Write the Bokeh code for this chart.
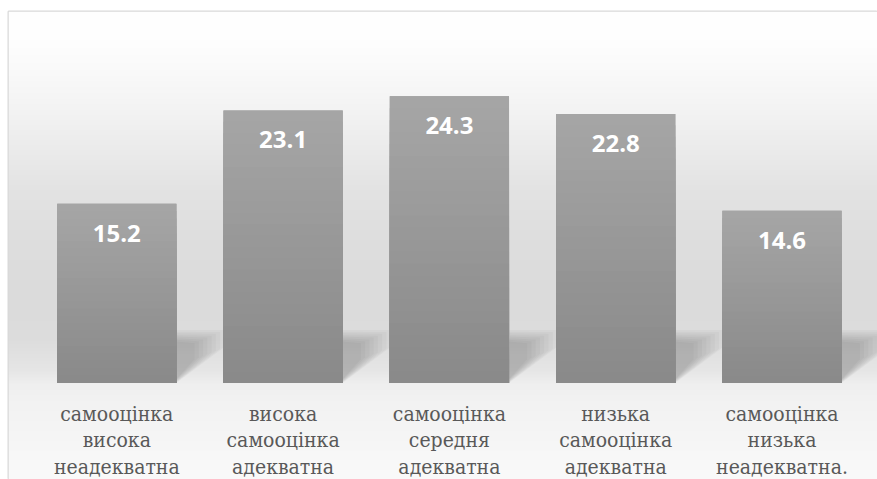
import numpy as np
from bokeh.plotting import figure
from bokeh.models import Range1d
from bokeh.core.properties import value
from bokeh.embed import file_html
from bokeh.resources import INLINE

# ---- data ----
categories = ["самооцінка висока неадекватна",
              "висока самооцінка адекватна",
              "самооцінка середня адекватна",
              "низька самооцінка адекватна",
              "самооцінка низька неадекватна."]
values = [15.2, 23.1, 24.3, 22.8, 14.6]
value_labels = ["15.2", "23.1", "24.3", "22.8", "14.6"]

# ---- geometry (screen scale) ----
W, H = 877, 479
LEFT, TOP = 8, 11
PX_X = 166.3          # px per category
PX_Y = 11.8           # px per unit
ZERO_PAGE = 382.5
FW, FH = W - LEFT, H - TOP
x0 = -(116.3 - LEFT) / PX_X
x1 = x0 + FW / PX_X
y1 = (ZERO_PAGE - TOP) / PX_Y
y0 = y1 - FH / PX_Y
BAR_W = 0.717
HALF = BAR_W / 2

idx = list(range(len(categories)))

p = figure(width=W, height=H, output_backend="svg", toolbar_location=None,
           x_range=Range1d(x0, x1), y_range=Range1d(y0, y1))
p.min_border_left = LEFT
p.min_border_right = 0
p.min_border_bottom = 0
p.min_border_top = TOP
p.xaxis.visible = False
p.yaxis.visible = False
p.xgrid.visible = False
p.ygrid.visible = False
p.outline_line_color = "#d9d9d9"
p.outline_line_width = 2
p.border_fill_color = "white"
p.background_fill_color = "white"

# ---- background gradient (decoration) ----
stops_y = [11, 40, 70, 110, 150, 190, 240, 300, 340, 370, 383, 400, 440, 479]
stops_g = [255, 254, 250, 243, 235, 227, 222, 219, 221, 230, 239, 242, 246, 250]
nrows = FH
page_rows = H - np.arange(nrows) - 0.5
g = np.interp(page_rows, stops_y, stops_g).astype(np.uint8)
img = np.empty((nrows, 1), dtype=np.uint32)
view = img.view(dtype=np.uint8).reshape((nrows, 1, 4))
view[:, 0, 0] = g
view[:, 0, 1] = g
view[:, 0, 2] = g
view[:, 0, 3] = 255
p.image_rgba(image=[img], x=x0, y=y0, dw=x1 - x0, dh=y1 - y0)

# ---- soft floor shadows to the right of each bar (decoration) ----
outer = np.array([(0, 53), (48, 53), (48, 36), (0, 0)], dtype=float)
inner = np.array([(0, 40), (14, 38), (14, 22), (0, 4)], dtype=float)
K = 8
for t in range(K):
    f = t / K
    pts = outer * (1 - f) + inner * f
    xs, ys = [], []
    for i in idx:
        r = i + HALF
        xs.append([r + dx / PX_X for dx, dy in pts])
        ys.append([dy / PX_Y for dx, dy in pts])
    p.patches(xs=xs, ys=ys, fill_color="black", fill_alpha=0.027, line_color=None)

# ---- bars ----
p.vbar(x=idx, top=values, bottom=0, width=BAR_W, fill_color="#989898", line_color=None)
N = 24
for j in range(N):
    frac = (N - j) / N
    gray = int(round(137 + 29 * (N - j - 0.5) / N))
    col = "#%02x%02x%02x" % (gray, gray, gray)
    p.vbar(x=idx, top=[v * frac for v in values], bottom=0, width=BAR_W,
           fill_color=col, line_color=None)

# ---- value labels ----
p.text(x=idx, y=values, text=value_labels, y_offset=29.5,
       text_align="center", text_baseline="alphabetic", text_color="white",
       text_font=value("Open Sans"), text_font_style="bold", text_font_size="24px")

# ---- category labels ----
lines = [c.split(" ") for c in categories]
fonts = ["DejaVu Serif Condensed",
         "'DejaVu Serif Condensed', 'DejaVu Serif', serif",
         "'DejaVu Serif Condensed', 'DejaVu Serif', serif"]
for k in range(3):
    p.text(x=idx, y=[0] * len(idx), text=[ln[k] for ln in lines], y_offset=30.5 + 26.8 * k,
           text_align="center", text_baseline="alphabetic", text_color="#595959",
           text_font=value(fonts[k]), text_font_size="21px")

open("out.html", "w").write(file_html(p, INLINE))
